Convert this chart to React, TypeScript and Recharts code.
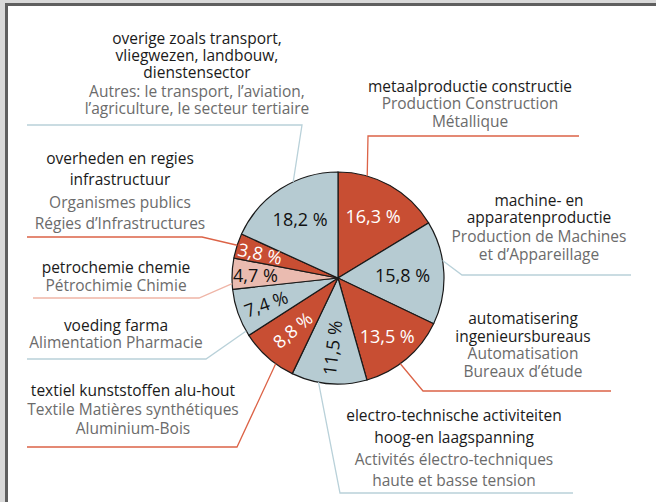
import React from "react";
import { PieChart, Pie, Cell } from "recharts";

const shares = [16.3, 15.8, 13.5, 11.5, 8.8, 7.4, 4.7, 3.8, 18.2];
const categoriesNl = [
  ["metaalproductie constructie"],
  ["machine- en", "apparatenproductie"],
  ["automatisering", "ingenieursbureaus"],
  ["electro-technische activiteiten", "hoog-en laagspanning"],
  ["textiel kunststoffen alu-hout"],
  ["voeding farma"],
  ["petrochemie chemie"],
  ["overheden en regies", "infrastructuur"],
  ["overige zoals transport,", "vliegwezen, landbouw,", "dienstensector"],
];
const categoriesFr = [
  ["Production Construction", "Métallique"],
  ["Production de Machines", "et d’Appareillage"],
  ["Automatisation", "Bureaux d’étude"],
  ["Activités électro-techniques", "haute et basse tension"],
  ["Textile Matières synthétiques", "Aluminium-Bois"],
  ["Alimentation Pharmacie"],
  ["Pétrochimie Chimie"],
  ["Organismes publics", "Régies d’Infrastructures"],
  ["Autres: le transport, l’aviation,", "l’agriculture, le secteur tertiaire"],
];

const RED = "#c84e33";
const BLUE = "#b6cbd2";
const PINK = "#eabbb0";
const sliceColors = [RED, BLUE, RED, BLUE, RED, BLUE, PINK, RED, BLUE];
const leaderColors = ["#dc6347", "#b9d1d9", "#dc6347", "#b9d1d9", "#dc6347", "#b9d1d9", "#efb5a7", "#dc6347", "#b9d1d9"];
const innerText = ["#ffffff", "#111111", "#ffffff", "#111111", "#ffffff", "#111111", "#111111", "#ffffff", "#111111"];

// layout (styling) of labels
const innerRadiusFrac = [0.675, 0.61, 0.72, 0.66, 0.65, 0.72, 0.78, 0.77, 0.66];
const innerRotation = [0, 0, 0, -83, -40, -20, 0, 12, 0];
const leaderStartAngle = [16, 80.5, 144, 190.6, 216, 240, 267, 288, 335];
const leaderElbow = [[368, 136], [462, 275], [423, 391], [340, 493], [237, 447], [206, 359], [199, 298], [202, 237], [302, 125]];
const leaderEnd = [[579, 136], [631, 275], [611, 391], [573, 493], [27, 447], [27, 359], [33, 298], [27, 237], [27, 125]];
const labelCenterX = [470, 539, 523, 454, 133, 116, 116, 120, 197];
const labelLineYs = [
  [86, 103, 121],
  [200, 217, 236, 254],
  [318, 336, 353, 371],
  [415, 437, 459, 480],
  [390, 409, 428],
  [325, 342],
  [267, 285],
  [158, 179, 202, 223],
  [38, 55, 72, 91, 108],
];

const data = shares.map((v, i) => ({ name: categoriesNl[i].join(" "), value: v }));
const FONT = "'Open Sans', sans-serif";
const RAD = Math.PI / 180;

function renderLabel(props: any) {
  const { cx, cy, midAngle, outerRadius, index, value } = props;
  const r = outerRadius * innerRadiusFrac[index];
  const x = cx + r * Math.cos(-midAngle * RAD);
  const y = cy + r * Math.sin(-midAngle * RAD);
  const a = leaderStartAngle[index] * RAD;
  const sx = cx + outerRadius * Math.sin(a);
  const sy = cy - outerRadius * Math.cos(a);
  const [ex, ey] = leaderElbow[index];
  const [fx, fy] = leaderEnd[index];
  const lines = [
    ...categoriesNl[index].map((t) => ({ t, c: "#1a1a1a" })),
    ...categoriesFr[index].map((t) => ({ t, c: "#6b6b6b" })),
  ];
  const txt = value.toFixed(1).replace(".", ",") + " %";
  return (
    <g key={"lbl" + index}>
      <polyline
        points={`${sx},${sy} ${ex},${ey} ${fx},${fy}`}
        fill="none"
        stroke={leaderColors[index]}
        strokeWidth={1.3}
      />
      <text
        x={x}
        y={y}
        fill={innerText[index]}
        fontSize={18}
        fontFamily={FONT}
        textAnchor="middle"
        dominantBaseline="central"
        transform={`rotate(${innerRotation[index]}, ${x}, ${y})`}
      >
        {txt}
      </text>
      {lines.map((l, k) => (
        <text
          key={k}
          x={labelCenterX[index]}
          y={labelLineYs[index][k]}
          fill={l.c}
          fontSize={15.5}
          fontFamily={FONT}
          textAnchor="middle"
          dominantBaseline="central"
        >
          {l.t}
        </text>
      ))}
    </g>
  );
}

export default function App() {
  return (
    <div style={{ position: "fixed", left: 0, top: 0, width: 656, height: 502, overflow: "hidden", background: "#d9d9d9" }}>
      <div
        style={{
          position: "absolute",
          left: 5,
          top: 3,
          width: 700,
          height: 560,
          border: "3px solid #5f5f5f",
          background: "#ffffff",
        }}
      />
      <div style={{ position: "absolute", left: 0, top: 0 }}>
        <PieChart width={656} height={502}>
          <Pie
            data={data}
            dataKey="value"
            cx={333}
            cy={273}
            outerRadius={106}
            startAngle={90}
            endAngle={-270}
            stroke="#1a1a1a"
            strokeWidth={1.2}
            label={renderLabel}
            labelLine={false}
            isAnimationActive={false}
          >
            {data.map((d, i) => (
              <Cell key={i} fill={sliceColors[i]} />
            ))}
          </Pie>
        </PieChart>
      </div>
    </div>
  );
}
